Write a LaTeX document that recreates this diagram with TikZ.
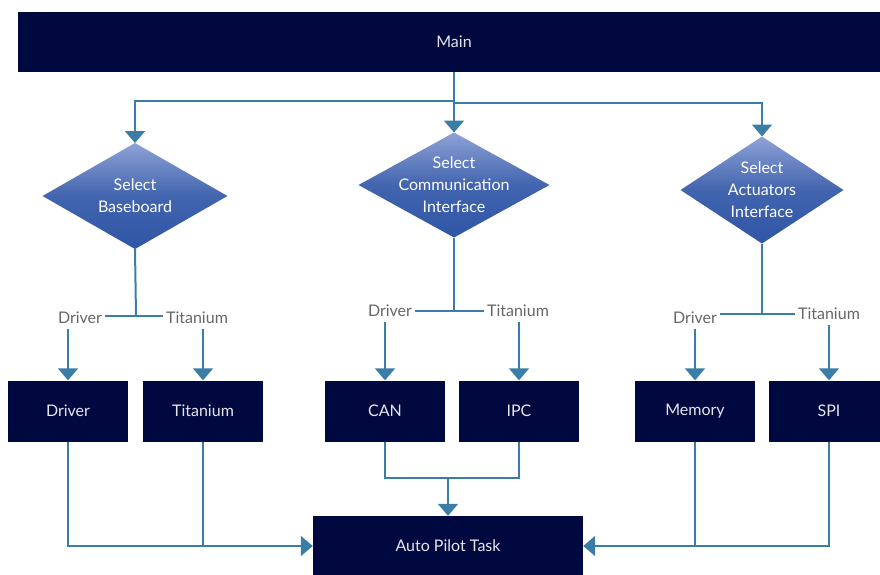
\documentclass[tikz,border=0pt]{standalone}
\usepackage{fontspec}
\setmainfont{Lato}
\usetikzlibrary{shapes.geometric,arrows.meta}
\definecolor{navy}{HTML}{000840}
\definecolor{linkblue}{HTML}{3A7DA6}
\definecolor{diatop}{HTML}{8EA2D6}
\definecolor{diabot}{HTML}{2F55A5}
\definecolor{lblgray}{HTML}{666666}
\tikzset{
  box/.style={
    rectangle,
    fill=navy,
    text=white!90!navy,
    minimum width=120pt,
    minimum height=61pt,
    inner sep=0pt,
    font=\fontsize{16}{22}\selectfont
  },
  decision/.style={
    diamond,
    top color=diatop,
    bottom color=diabot,
    middle color=diabot!80!diatop,
    text=white,
    align=center,
    inner xsep=-35pt,
    inner ysep=-25pt,
    outer sep=0pt,
    font=\fontsize{16}{22}\selectfont
  },
  lbl/.style={
    text=lblgray,
    inner sep=3pt,
    font=\fontsize{16}{22}\selectfont
  },
  link/.style={draw=linkblue,line width=2pt},
  arrow/.style={link,-{Triangle[width=20pt,length=12pt]}}
}

\begin{document}
\begin{tikzpicture}[x=1pt,y=-1pt]
    \clip (0,0) rectangle (880,574);
    % top
    \node[box,minimum width=872pt,minimum height=60pt] (main) at (454,42) {Main};
    \node[decision,minimum width=185pt,minimum height=106pt] (d1) at (135,196) {Select\\Baseboard};
    \node[decision,minimum width=191pt,minimum height=105pt] (d2) at (454,185) {Select\\Communication\\Interface};
    \node[decision,minimum width=163pt,minimum height=107pt] (d3) at (762,190) {Select\\Actuators\\Interface};
    % branch labels
    \node[lbl] (l1) at (80,318) {Driver};
    \node[lbl] (l2) at (197,318) {Titanium};
    \node[lbl] (l3) at (390,311) {Driver};
    \node[lbl] (l4) at (518,311) {Titanium};
    \node[lbl] (l5) at (695,318) {Driver};
    \node[lbl] (l6) at (829,314) {Titanium};
    % boxes
    \node[box] (b1) at (68,411) {Driver};
    \node[box] (b2) at (203,411) {Titanium};
    \node[box] (b3) at (385,411) {CAN};
    \node[box] (b4) at (519,411) {IPC};
    \node[box] (b5) at (695,411) {Memory};
    \node[box] (b6) at (829,411) {SPI};
    \node[box,minimum width=270pt,minimum height=60pt] (ap) at (448,546) {Auto Pilot Task};
    % joints
    \coordinate (t1) at (454,101);
    \coordinate (t2) at (454,103);
    \coordinate (j1) at (136,316);
    \coordinate (j2) at (454,311);
    \coordinate (j3) at (762,314);
    \coordinate (jm) at (448,478);
    % connectors
    \draw[arrow] (main.south) -- (d2.north);
    \draw[arrow] (t1) -| (d1.north);
    \draw[arrow] (t2) -| (d3.north);
    \draw[link] (d1.south) -- (j1);
    \draw[link] (l1.east |- j1) -- (l2.west |- j1);
    \draw[link] (d2.south) -- (j2);
    \draw[link] (l3.east |- j2) -- (l4.west |- j2);
    \draw[link] (d3.south) -- (j3);
    \draw[link] (l5.east |- j3) -- (l6.west |- j3);
    \draw[arrow,shorten <=2pt] (b1.north |- l1.south) -- (b1.north);
    \draw[arrow,shorten <=2pt] (b2.north |- l2.south) -- (b2.north);
    \draw[arrow,shorten <=2pt] (b3.north |- l3.south) -- (b3.north);
    \draw[arrow,shorten <=2pt] (b4.north |- l4.south) -- (b4.north);
    \draw[arrow,shorten <=2pt] (b5.north |- l5.south) -- (b5.north);
    \draw[arrow,shorten <=2pt] (b6.north |- l6.south) -- (b6.north);
    \draw[arrow] (b1.south) |- (ap.west);
    \draw[link] (b2.south) -- (b2.south |- ap.west);
    \draw[link] (b3.south) |- (jm) -| (b4.south);
    \draw[arrow] (jm) -- (ap.north);
    \draw[arrow] (b6.south) |- (ap.east);
    \draw[link] (b5.south) -- (b5.south |- ap.east);
\end{tikzpicture}
\end{document}
